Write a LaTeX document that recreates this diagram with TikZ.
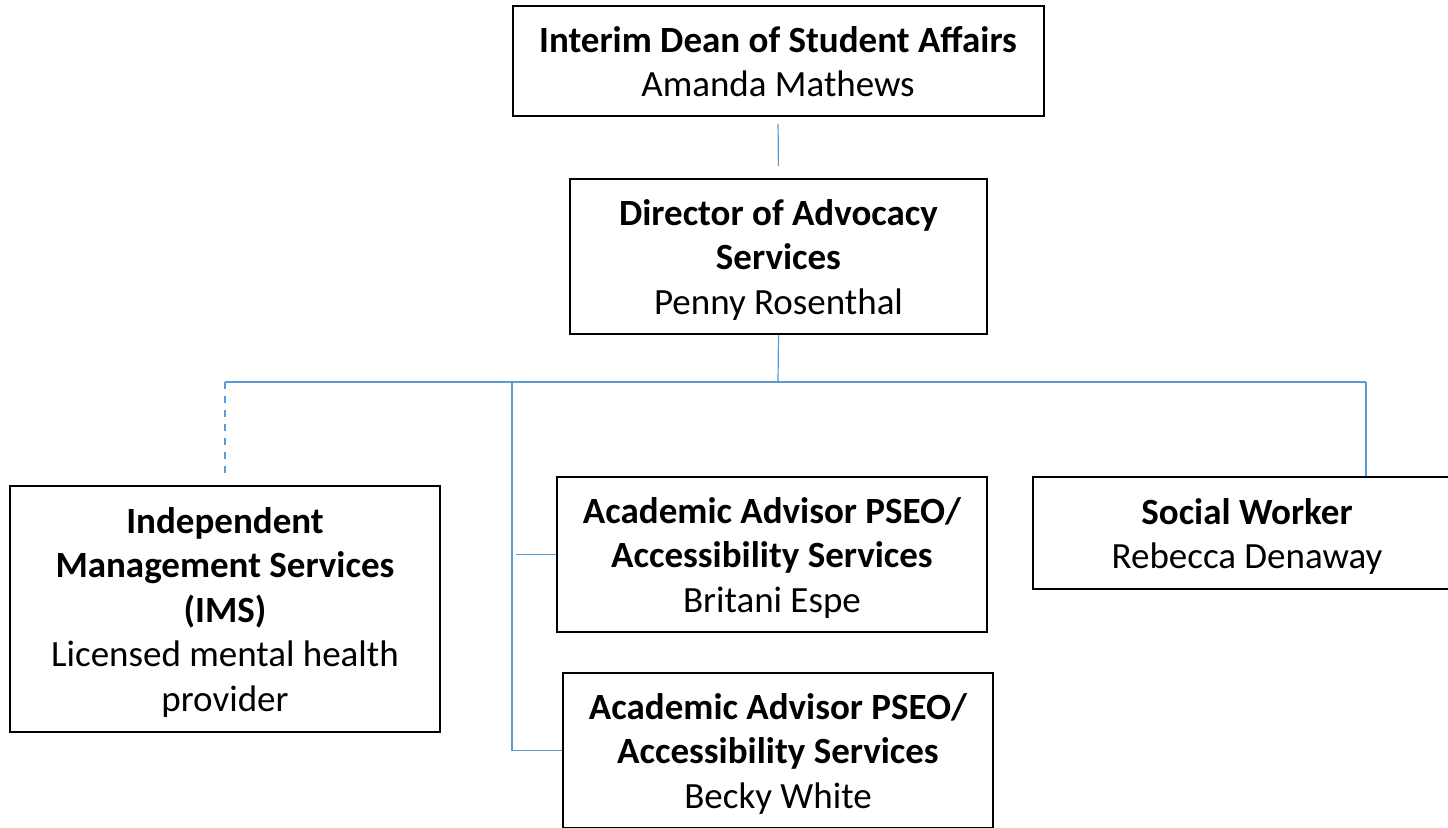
\documentclass[tikz,border=0pt]{standalone}
\usepackage{fontspec}
\setmainfont{Carlito}
\definecolor{lineblue}{RGB}{91,155,213}
\newcommand\topstrut{\rule{0pt}{20pt}}
\newcommand\botstrut{\rule[-6.66pt]{0pt}{6.66pt}}
\begin{document}
\begin{tikzpicture}[x=0.5pt,y=-0.5pt,
  box/.style={draw=black, line width=1pt, inner sep=0pt, align=center,
    font=\fontsize{18.5}{22.2}\selectfont},
  conn/.style={draw=lineblue, line width=0.6pt},
  dashconn/.style={conn, dash pattern=on 3.5pt off 3.5pt}]
\useasboundingbox (0,0) rectangle (1448,828);
\fill[white] (0,0) rectangle (1448,828);

\node[box, minimum width=265.5pt, minimum height=55pt] (dean) at (778,61)
  {\topstrut\bfseries Interim Dean of Student Affairs\\ Amanda Mathews\botstrut};
\node[box, minimum width=208.5pt, minimum height=77.5pt] (dir) at (778.5,256.5)
  {\topstrut\bfseries Director of Advocacy\\ \bfseries Services\\ Penny Rosenthal\botstrut};
\node[box, minimum width=215pt, minimum height=123pt] (ims) at (225,609)
  {\topstrut\bfseries Independent\\ \bfseries Management Services\\ \bfseries (IMS)\\ Licensed mental health\\ provider\botstrut};
\node[box, minimum width=215pt, minimum height=77.5pt] (ac1) at (772,554.5)
  {\topstrut\bfseries Academic Advisor PSEO/\\ \bfseries Accessibility Services\\ Britani Espe\botstrut};
\node[box, minimum width=214pt, minimum height=56pt] (sw) at (1247,533)
  {\topstrut\bfseries Social Worker\\ Rebecca Denaway\botstrut};
\node[box, minimum width=215pt, minimum height=77.5pt] (ac2) at (778,750.5)
  {\topstrut\bfseries Academic Advisor PSEO/\\ \bfseries Accessibility Services\\ Becky White\botstrut};

\coordinate (bus) at (778,382);
\coordinate (swj) at (1366,382);
\coordinate (spine) at (512,382);
\coordinate (b1) at (516,554.5);

\draw[conn, shorten <=3.5pt, shorten >=6pt] (dean.south) -- (dir.north);
\draw[conn] (dir.south) -- (bus);
\draw[conn] (ims.north |- bus) -- (swj);
\draw[dashconn, shorten >=6pt] (ims.north |- bus) -- (ims.north);
\draw[conn] (swj) -- (swj |- sw.north);
\draw[conn] (spine) -- (spine |- ac2.west) -- (ac2.west);
\draw[conn] (b1) -- (ac1.west);
\end{tikzpicture}
\end{document}
